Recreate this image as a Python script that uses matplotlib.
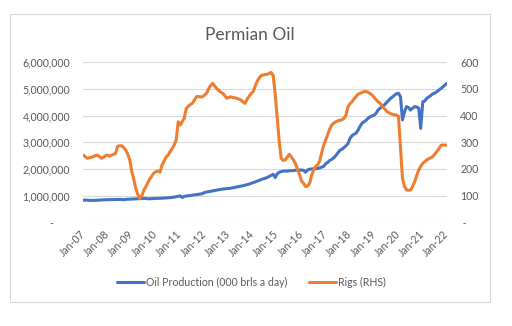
import numpy as np
import pandas as pd
import matplotlib
matplotlib.use('Agg')
import matplotlib.pyplot as plt
import matplotlib.dates as mdates
from matplotlib.ticker import FuncFormatter, MultipleLocator
from matplotlib.patches import Rectangle

plt.rcParams['font.family'] = ['Lato', 'DejaVu Sans']

# monthly data, Jan-07 .. Jan-22
start_month = '2007-01-01'

# Permian rig count (RHS)
rigs = [
    252, 246, 240, 242, 244, 246, 250, 252, 246, 240, 244, 250,   # 2007
    252, 248, 252, 255, 258, 285, 287, 287, 280, 271, 255, 234,   # 2008
    190, 160, 127, 105, 90, 100, 120, 134, 150, 163, 175, 185,    # 2009
    190, 192, 188, 215, 230, 245, 252, 265, 277, 290, 309, 377,   # 2010
    365, 378, 390, 427, 435, 442, 446, 458, 471, 472, 470, 471,   # 2011
    477, 484, 500, 512, 521, 512, 502, 495, 488, 484, 475, 465,   # 2012
    468, 471, 468, 467, 465, 462, 459, 452, 446, 460, 472, 482,   # 2013
    490, 510, 527, 540, 550, 552, 554, 555, 558, 562, 550, 480,   # 2014
    390, 300, 240, 232, 234, 245, 255, 245, 234, 220, 200, 180,   # 2015
    155, 146, 134, 136, 146, 175, 196, 210, 215, 230, 262, 290,   # 2016
    310, 330, 350, 365, 372, 377, 380, 383, 384, 390, 402, 434,   # 2017
    445, 452, 462, 471, 480, 484, 487, 490, 490, 488, 482, 477,   # 2018
    468, 459, 452, 446, 435, 427, 418, 412, 408, 405, 403, 402,   # 2019
    398, 277, 165, 134, 121, 120, 121, 135, 152, 175, 196, 210,   # 2020
    221, 228, 234, 238, 242, 246, 256, 266, 276, 288, 290, 289,   # 2021
    290,                                                          # 2022
]

# oil production, thousands
oil_k = [
    830, 835, 828, 822, 820, 822, 825, 828, 830, 835, 840, 845,
    848, 850, 852, 855, 856, 858, 860, 858, 845, 860, 865, 868,
    870, 875, 880, 885, 890, 895, 898, 895, 880, 885, 888, 890,
    892, 895, 900, 905, 910, 915, 920, 925, 935, 945, 960, 975,
    990, 930, 970, 985, 995, 1005, 1015, 1025, 1035, 1045, 1060, 1075,
    1120, 1135, 1150, 1165, 1180, 1195, 1210, 1220, 1235, 1245, 1255, 1265,
    1270, 1280, 1295, 1310, 1325, 1340, 1355, 1370, 1390, 1410, 1430, 1460,
    1490, 1510, 1540, 1570, 1600, 1630, 1650, 1680, 1720, 1760, 1800, 1680,
    1820, 1880, 1900, 1920, 1925, 1920, 1930, 1935, 1940, 1950, 1955, 1960,
    1960, 1950, 1880, 1960, 1990, 2000, 2010, 2010, 2020, 2040, 2070, 2100,
    2200, 2250, 2320, 2360, 2420, 2500, 2600, 2700, 2740, 2800, 2870, 2950,
    3150, 3250, 3300, 3340, 3450, 3600, 3720, 3770, 3830, 3900, 3960, 3990,
    4020, 4100, 4220, 4280, 4350, 4400, 4480, 4560, 4640, 4700, 4760, 4820,
    4840, 4700, 3840, 4150, 4340, 4300, 4210, 4280, 4340, 4320, 4280, 3520,
    4520, 4550, 4650, 4700, 4750, 4820, 4840, 4900, 4960, 5020, 5080, 5150,
    5210,
]

series_names = ['Oil Production (000 brls a day)', 'Rigs (RHS)']
colors = ['#4472C4', '#ED7D31']
text_col = '#595959'
grid_col = '#D9D9D9'

dates = pd.date_range(start_month, periods=len(rigs), freq='MS')
oil = np.array(oil_k) * 1000

fig = plt.figure(figsize=(5.12, 3.26), dpi=100)

# chart border like excel
fig.patches.append(Rectangle((10 / 512, 1 - 302 / 326), 480 / 512, 288 / 326,
                             transform=fig.transFigure, fill=False,
                             edgecolor=grid_col, linewidth=0.8))

ax = fig.add_axes([83.3 / 512, 1 - 222.3 / 326, (447 - 83.3) / 512, 160 / 326])
ax2 = ax.twinx()

l1, = ax.plot(dates, oil, color=colors[0], lw=2.2, solid_capstyle='round')
l2, = ax2.plot(dates, rigs, color=colors[1], lw=2.2, solid_capstyle='round')

ax.set_ylim(0, 6_000_000)
ax2.set_ylim(0, 600)
ax.yaxis.set_major_locator(MultipleLocator(1_000_000))
ax2.yaxis.set_major_locator(MultipleLocator(100))
ax.yaxis.set_major_formatter(FuncFormatter(lambda v, p: '-      ' if v == 0 else f'{v:,.0f}'))
ax2.yaxis.set_major_formatter(FuncFormatter(lambda v, p: ' -' if v == 0 else f'{v:.0f}'))
ax.set_xlim(dates[0], dates[-1])
ax.xaxis.set_major_locator(mdates.YearLocator())
ax.xaxis.set_major_formatter(mdates.DateFormatter('%b-%y'))

ax.grid(axis='y', color=grid_col, lw=0.8)
ax.set_axisbelow(True)
for a in (ax, ax2):
    for s in a.spines.values():
        s.set_visible(False)
    a.tick_params(length=0, labelsize=7.6, labelcolor=text_col)
ax.tick_params(axis='y', pad=9.5)
ax2.tick_params(axis='y', pad=9.5)
ax.tick_params(axis='x', pad=7)
for lab in ax.get_xticklabels():
    lab.set_rotation(45)
    lab.set_ha('right')
    lab.set_va('center')
    lab.set_rotation_mode('anchor')

fig.text(0.488, 1 - 35 / 326, 'Permian Oil', ha='center', va='center',
         fontsize=12.5, color=text_col)

fig.legend([l1, l2], series_names, loc='center', bbox_to_anchor=(0.491, 1 - 282 / 326),
           ncol=2, frameon=False, fontsize=7.6, labelcolor=text_col,
           handlelength=2.6, handletextpad=0.2, columnspacing=2.0)

fig.savefig('out.png', dpi=100)
